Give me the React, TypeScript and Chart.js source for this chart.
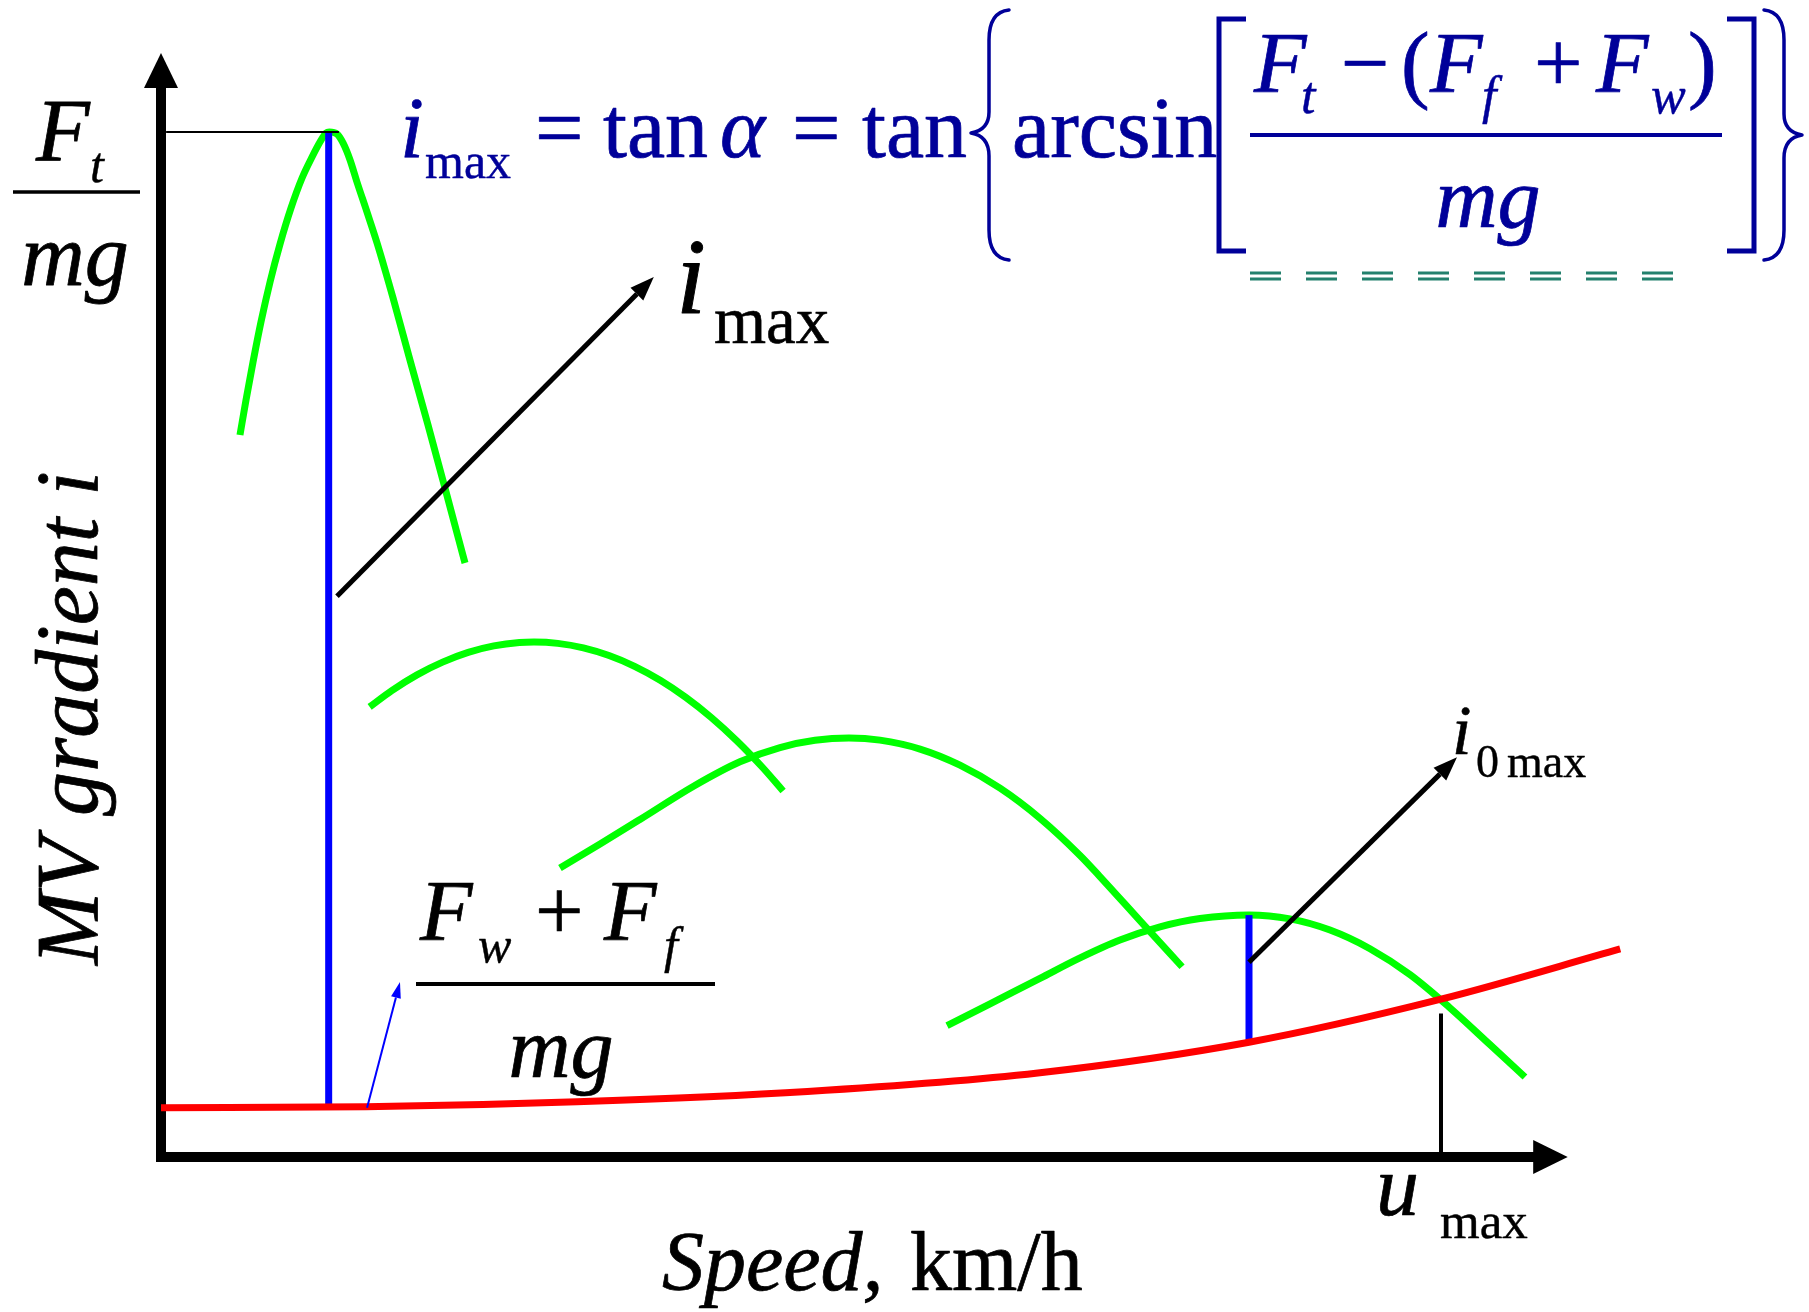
import React, { useEffect, useRef } from "react";
import { Chart, registerables } from "chart.js";

Chart.register(...registerables);

// ---------------- data (speed in km/h units, gradient in % of Ft/mg) ----------------
const resistSpeed = [0, 16, 32.5, 50.5, 68.5, 85, 100, 114];
const resistGrad = [4.8, 4.9, 5.4, 6.4, 8.2, 11.2, 15.4, 20.3];

const gear1Speed = [
  6.17, 6.64, 7.19, 7.81, 8.52, 9.3, 10.16, 11.02, 11.8, 12.42, 12.89, 13.15,
  13.75, 14.22, 14.77, 15.31, 16.09, 16.88, 18.13, 19.45, 20.86, 22.27, 23.75,
];
const gear1Grad = [
  70.44, 73.85, 77.56, 81.46, 85.37, 89.07, 92.59, 95.51, 97.56, 99.02, 99.9, 100,
  99.8, 98.93, 97.27, 95.12, 92.2, 89.17, 83.8, 77.76, 71.41, 64.88, 57.95,
];

const gear2Speed = [16.3, 18, 20, 22, 24, 26, 28, 29.14, 31, 33, 35, 37, 39, 41, 43, 45, 47, 48.6];
const gear2Grad = [43.91, 45.48, 47.04, 48.28, 49.23, 49.86, 50.19, 50.24, 50.11, 49.67, 48.92, 47.87, 46.51, 44.84, 42.87, 40.59, 38.0, 35.71];

const gear3Speed = [31.17, 34.3, 37.42, 41.64, 45.23, 48.36, 51.09, 53.75, 56.17, 59.3, 62.42, 65.55, 68.67, 71.8, 73.28, 76.48, 79.77];
const gear3Grad = [28.2, 30.54, 32.93, 36.2, 38.56, 39.95, 40.65, 40.88, 40.67, 39.8, 38.23, 35.98, 33.04, 29.42, 27.46, 23.06, 18.56];

const gear4Speed = [61.41, 64.77, 68.67, 71.72, 74.92, 78.05, 81.17, 85.0, 88.2, 91.33, 94.45, 97.58, 100.63, 103.83, 106.56];
const gear4Grad = [12.81, 14.95, 17.43, 19.38, 21.17, 22.45, 23.26, 23.61, 23.23, 22.14, 20.32, 17.79, 14.63, 10.96, 7.81];

// marker lines
const iMaxSpeed = [13.1, 13.1];
const iMaxGrad = [4.8, 100];
const i0MaxSpeed = [85, 85];
const i0MaxGrad = [11.2, 23.6];
const ftLevelSpeed = [0.4, 13.9];
const ftLevelGrad = [100, 100];
const uMaxSpeed = [100, 100];
const uMaxGrad = [0, 14.0];

// axes extents (data units)
const X_AXIS_END = 109.9;
const X_HEAD_BASE = 107.2;
const Y_AXIS_END = 107.7;
const Y_HEAD_BASE = 104.3;

// annotation arrows [x0, y0, x1, y1]
const arrowIMax = [13.75, 54.7, 38.5, 85.85];
const arrowI0Max = [85, 19.0, 101.25, 39.0];
const arrowResist = [16.1, 4.8, 18.67, 17.07];

const X_MIN = -12.578;
const X_MAX = 128.75;
const Y_MIN = -15.122;
const Y_MAX = 112.878;

const SERIF = '"Liberation Serif", "Times New Roman", serif';
const NAVY = "#000099";
const BLACK = "#000000";

function pts(xs: number[], ys: number[]) {
  return xs.map((x, i) => ({ x, y: ys[i] }));
}

function curve(xs: number[], ys: number[], color: string, width: number, order: number) {
  return {
    data: pts(xs, ys),
    showLine: true,
    borderColor: color,
    backgroundColor: color,
    borderWidth: width,
    pointRadius: 0,
    fill: false,
    cubicInterpolationMode: "monotone" as const,
    borderCapStyle: "butt" as const,
    borderJoinStyle: "round" as const,
    order,
  };
}

function straight(xs: number[], ys: number[], color: string, width: number, order: number) {
  return {
    data: pts(xs, ys),
    showLine: true,
    borderColor: color,
    backgroundColor: color,
    borderWidth: width,
    pointRadius: 0,
    fill: false,
    tension: 0,
    borderCapStyle: "butt" as const,
    order,
  };
}

function txt(
  ctx: CanvasRenderingContext2D,
  s: string,
  x: number,
  y: number,
  size: number,
  italic: boolean,
  color: string,
  align: CanvasTextAlign = "left"
) {
  ctx.font = `${italic ? "italic " : ""}${size}px ${SERIF}`;
  ctx.fillStyle = color;
  ctx.strokeStyle = color;
  ctx.lineWidth = size / 115;
  ctx.lineJoin = "round";
  ctx.textAlign = align;
  ctx.textBaseline = "alphabetic";
  ctx.fillText(s, x, y);
  ctx.strokeText(s, x, y);
}

function hline(ctx: CanvasRenderingContext2D, x0: number, x1: number, y: number, w: number, color: string) {
  ctx.beginPath();
  ctx.moveTo(x0, y);
  ctx.lineTo(x1, y);
  ctx.lineWidth = w;
  ctx.strokeStyle = color;
  ctx.lineCap = "butt";
  ctx.stroke();
}

function arrow(
  ctx: CanvasRenderingContext2D,
  x0: number,
  y0: number,
  x1: number,
  y1: number,
  lw: number,
  headLen: number,
  headHalf: number,
  color: string
) {
  const ang = Math.atan2(y1 - y0, x1 - x0);
  const bx = x1 - headLen * Math.cos(ang);
  const by = y1 - headLen * Math.sin(ang);
  ctx.beginPath();
  ctx.moveTo(x0, y0);
  ctx.lineTo(bx, by);
  ctx.lineWidth = lw;
  ctx.strokeStyle = color;
  ctx.lineCap = "butt";
  ctx.stroke();
  ctx.beginPath();
  ctx.moveTo(x1, y1);
  ctx.lineTo(bx + headHalf * Math.sin(ang), by - headHalf * Math.cos(ang));
  ctx.lineTo(bx - headHalf * Math.sin(ang), by + headHalf * Math.cos(ang));
  ctx.closePath();
  ctx.fillStyle = color;
  ctx.fill();
}

export default function App() {
  const ref = useRef<HTMLCanvasElement>(null);

  useEffect(() => {
    const canvas = ref.current;
    if (!canvas) return;

    const decor = {
      id: "decor",
      beforeDatasetsDraw(chart: any) {
        const ctx: CanvasRenderingContext2D = chart.ctx;
        const xs = chart.scales.x;
        const ys = chart.scales.y;
        const ox = xs.getPixelForValue(0);
        const oy = ys.getPixelForValue(0);
        ctx.save();
        // y axis
        const yBase = ys.getPixelForValue(Y_HEAD_BASE);
        const yTip = ys.getPixelForValue(Y_AXIS_END);
        ctx.fillStyle = BLACK;
        ctx.fillRect(ox - 5, yBase - 1, 10, oy + 5 - yBase + 1);
        ctx.beginPath();
        ctx.moveTo(ox, yTip);
        ctx.lineTo(ox - 17, yBase);
        ctx.lineTo(ox + 17, yBase);
        ctx.closePath();
        ctx.fill();
        // x axis
        const xBase = xs.getPixelForValue(X_HEAD_BASE);
        const xTip = xs.getPixelForValue(X_AXIS_END);
        ctx.fillRect(ox - 5, oy - 5, xBase - ox + 6, 10);
        ctx.beginPath();
        ctx.moveTo(xTip, oy);
        ctx.lineTo(xBase, oy - 17);
        ctx.lineTo(xBase, oy + 17);
        ctx.closePath();
        ctx.fill();
        ctx.restore();
      },
      afterDatasetsDraw(chart: any) {
        const ctx: CanvasRenderingContext2D = chart.ctx;
        const xs = chart.scales.x;
        const ys = chart.scales.y;
        const P = (a: number[]) => [
          xs.getPixelForValue(a[0]),
          ys.getPixelForValue(a[1]),
          xs.getPixelForValue(a[2]),
          ys.getPixelForValue(a[3]),
        ];
        ctx.save();

        // arrows
        let a = P(arrowIMax);
        arrow(ctx, a[0], a[1], a[2], a[3], 5, 24, 9, BLACK);
        a = P(arrowI0Max);
        arrow(ctx, a[0], a[1], a[2], a[3], 5, 24, 9, BLACK);
        a = P(arrowResist);
        arrow(ctx, a[0], a[1], a[2], a[3], 2, 16, 5, "#0000ff");

        // Ft / mg label (axis top)
        txt(ctx, "F", 36, 160, 88, true, BLACK);
        txt(ctx, "t", 90, 182, 50, true, BLACK);
        hline(ctx, 13, 140, 192, 3.5, BLACK);
        txt(ctx, "mg", 75, 285, 88, true, BLACK, "center");

        // big i_max
        txt(ctx, "i", 676, 313, 108, true, BLACK);
        txt(ctx, "max", 714, 343, 67, false, BLACK);

        // i_0max
        txt(ctx, "i", 1452, 754, 70, true, BLACK);
        txt(ctx, "0", 1476, 777, 46, false, BLACK);
        txt(ctx, "max", 1507, 777, 46, false, BLACK);

        // (Fw + Ff) / mg
        txt(ctx, "F", 420, 940, 86, true, BLACK);
        txt(ctx, "w", 478, 962, 50, true, BLACK);
        txt(ctx, "+", 535, 940, 86, false, BLACK);
        txt(ctx, "F", 604, 940, 86, true, BLACK);
        txt(ctx, "f", 664, 962, 50, true, BLACK);
        hline(ctx, 416, 715, 984, 4, BLACK);
        txt(ctx, "mg", 561, 1077, 86, true, BLACK, "center");

        // u_max
        txt(ctx, "u", 1376, 1215, 86, true, BLACK);
        txt(ctx, "max", 1440, 1238, 51, false, BLACK);

        // x axis title
        txt(ctx, "Speed,", 662, 1290, 84, true, BLACK);
        txt(ctx, "km/h", 910, 1290, 84, false, BLACK);

        // y axis title (rotated)
        ctx.save();
        ctx.translate(97, 965);
        ctx.rotate(-Math.PI / 2);
        txt(ctx, "MV gradient i", 0, 0, 88, true, BLACK);
        ctx.restore();

        // formula
        txt(ctx, "i", 400, 157, 86, true, NAVY);
        txt(ctx, "max", 425, 178, 50, false, NAVY);
        txt(ctx, "=", 535, 157, 86, false, NAVY);
        txt(ctx, "tan", 603, 157, 86, false, NAVY);
        txt(ctx, "α", 720, 157, 86, true, NAVY);
        txt(ctx, "=", 792, 157, 86, false, NAVY);
        txt(ctx, "tan", 862, 157, 86, false, NAVY);
        txt(ctx, "arcsin", 1012, 157, 86, false, NAVY);

        // left brace
        ctx.strokeStyle = NAVY;
        ctx.lineWidth = 3.5;
        ctx.lineCap = "round";
        ctx.beginPath();
        ctx.moveTo(1009, 10);
        ctx.quadraticCurveTo(989, 12, 989, 40);
        ctx.lineTo(989, 112);
        ctx.quadraticCurveTo(989, 130, 971, 133);
        ctx.quadraticCurveTo(989, 136, 989, 156);
        ctx.lineTo(989, 230);
        ctx.quadraticCurveTo(989, 258, 1009, 260);
        ctx.stroke();
        // right brace
        ctx.beginPath();
        ctx.moveTo(1764, 10);
        ctx.quadraticCurveTo(1784, 12, 1784, 40);
        ctx.lineTo(1784, 114);
        ctx.quadraticCurveTo(1784, 132, 1802, 135);
        ctx.quadraticCurveTo(1784, 138, 1784, 158);
        ctx.lineTo(1784, 230);
        ctx.quadraticCurveTo(1784, 258, 1764, 260);
        ctx.stroke();

        // brackets
        ctx.lineWidth = 5;
        ctx.lineCap = "butt";
        ctx.lineJoin = "miter";
        ctx.beginPath();
        ctx.moveTo(1246, 19);
        ctx.lineTo(1219, 19);
        ctx.lineTo(1219, 251);
        ctx.lineTo(1246, 251);
        ctx.stroke();
        ctx.beginPath();
        ctx.moveTo(1727, 19);
        ctx.lineTo(1754, 19);
        ctx.lineTo(1754, 251);
        ctx.lineTo(1727, 251);
        ctx.stroke();

        // numerator
        txt(ctx, "F", 1254, 92, 86, true, NAVY);
        txt(ctx, "t", 1301, 113, 52, true, NAVY);
        txt(ctx, "\u2212", 1341, 92, 86, false, NAVY);
        txt(ctx, "(", 1401, 92, 86, false, NAVY);
        txt(ctx, "F", 1430, 92, 86, true, NAVY);
        txt(ctx, "f", 1482, 113, 52, true, NAVY);
        txt(ctx, "+", 1534, 92, 86, false, NAVY);
        txt(ctx, "F", 1596, 92, 86, true, NAVY);
        txt(ctx, "w", 1651, 113, 52, true, NAVY);
        txt(ctx, ")", 1688, 92, 86, false, NAVY);
        hline(ctx, 1250, 1722, 135, 4, NAVY);
        txt(ctx, "mg", 1488, 227, 86, true, NAVY, "center");

        // double dashed underline
        ctx.fillStyle = "#23806d";
        for (let k = 0; k < 8; k++) {
          const x0 = 1250 + 56 * k;
          ctx.fillRect(x0, 271.5, 31, 3);
          ctx.fillRect(x0, 277.5, 31, 3);
        }

        ctx.restore();
      },
    };

    const chart = new Chart(canvas, {
      type: "scatter",
      data: {
        datasets: [
          straight(ftLevelSpeed, ftLevelGrad, BLACK, 2, 0),
          straight(uMaxSpeed, uMaxGrad, BLACK, 4, 0),
          curve(resistSpeed, resistGrad, "#ff0000", 7, 1),
          straight(iMaxSpeed, iMaxGrad, "#0000ff", 7, 2),
          straight(i0MaxSpeed, i0MaxGrad, "#0000ff", 7, 2),
          curve(gear1Speed, gear1Grad, "#00ff00", 7, 3),
          curve(gear2Speed, gear2Grad, "#00ff00", 7, 3),
          curve(gear3Speed, gear3Grad, "#00ff00", 7, 3),
          curve(gear4Speed, gear4Grad, "#00ff00", 7, 3),
        ] as any,
      },
      options: {
        animation: false,
        responsive: false,
        devicePixelRatio: 1,
        events: [],
        layout: { padding: 0 },
        plugins: {
          legend: { display: false },
          tooltip: { enabled: false },
        },
        scales: {
          x: { type: "linear", min: X_MIN, max: X_MAX, display: false },
          y: { type: "linear", min: Y_MIN, max: Y_MAX, display: false },
        },
      } as any,
      plugins: [decor],
    });

    return () => chart.destroy();
  }, []);

  return (
    <div
      style={{
        position: "fixed",
        left: 0,
        top: 0,
        width: 1809,
        height: 1312,
        background: "#ffffff",
      }}
    >
      <canvas ref={ref} width={1809} height={1312} style={{ display: "block" }} />
    </div>
  );
}
